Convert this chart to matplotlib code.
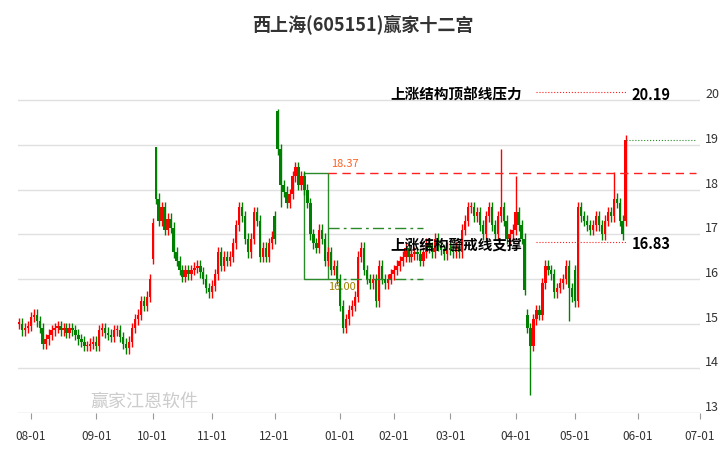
import matplotlib
matplotlib.use("Agg")
import matplotlib.pyplot as plt
from matplotlib.patches import Rectangle

plt.rcParams['font.family'] = ['Noto Sans CJK SC', 'DejaVu Sans']

closes = [15.0,14.85,14.9,14.95,15.15,15.2,15.05,14.9,14.55,14.65,14.75,14.85,14.9,14.95,14.85,14.9,14.8,14.9,14.85,14.75,
          14.65,14.6,14.5,14.5,14.55,14.6,14.5,14.85,14.9,14.8,14.75,14.7,14.85,14.85,14.7,14.55,14.45,14.6,14.9,15.1,
          15.2,15.5,15.4,15.6,16.0,17.25,17.8,17.3,17.6,17.1,17.35,17.15,16.6,
          16.4,16.2,16.05,16.2,16.1,16.2,16.25,16.3,16.15,16.0,
          15.8,15.7,15.85,16.1,16.6,16.3,16.5,16.4,16.5,16.8,
          17.2,17.6,17.4,16.9,16.6,16.9,17.5,17.3,16.5,16.7,16.5,16.8,16.95,16.9,
          18.9,18.1,17.95,17.7,17.9,18.3,18.5,18.1,18.3,18.0,17.7,
          17.0,16.8,16.7,17.1,16.9,16.4,16.6,16.2,16.3,
          16.0,15.4,14.9,15.1,15.3,15.4,15.6,
          16.5,16.7,16.2,16.0,15.9,16.0,15.5,16.3,
          16.0,15.9,16.0,16.1,16.2,16.3,16.4,16.5,16.7,16.5,16.55,16.6,16.55,16.4,16.6,
          16.8,16.7,16.6,16.9,16.75,16.65,16.55,16.7,16.65,16.6,16.7,16.6,
          17.1,17.3,17.6,17.6,17.4,17.5,17.2,17.0,17.4,17.6,
          17.2,17.0,17.4,17.6,17.3,16.9,17.0,17.1,
          17.5,17.2,16.9,15.75,14.9,14.5,15.1,
          15.3,15.2,15.9,16.3,16.2,16.1,15.7,15.8,15.9,16.0,
          16.3,15.8,15.6,15.5,
          17.6,17.4,17.3,17.2,17.1,17.2,17.4,17.2,17.0,17.3,17.5,17.4,17.8,17.7,17.3,17.0,
          19.1]
# opens that gap away from the previous close
open_overrides = {45: 16.45, 46: 18.95, 86: 17.4, 87: 19.75, 187: 16.2, 204: 17.3, 171: 15.2}
# highs / lows that reach far beyond the body
high_overrides = {46: 18.95, 87: 19.8, 162: 18.9, 167: 18.3, 200: 18.4}
low_overrides = {172: 13.4, 88: 17.6, 185: 15.05}
wick = 0.12

date_ticks = ['08-01','09-01','10-01','11-01','12-01','01-01','02-01','03-01','04-01','05-01','06-01','07-01']
tick_pos = [4, 26, 45, 65, 86, 108, 126, 145, 167, 187, 208, 229]

fig = plt.figure(figsize=(7.26, 4.5), dpi=100)
ax = fig.add_axes([18/726, 1-413/450, (700-18)/726, (413-60)/450])
for i, c in enumerate(closes):
    o = open_overrides.get(i, closes[i-1] if i > 0 else c)
    hi = high_overrides.get(i, max(o, c) + wick)
    lo = low_overrides.get(i, min(o, c) - wick)
    col = '#ff0000' if c >= o else '#008000'
    ax.vlines(i, lo, hi, color=col, lw=1)
    ax.add_patch(Rectangle((i-0.4, min(o, c)), 0.8, max(abs(c-o), 0.03), color=col, lw=0))

ax.set_xlim(-0.3, 227.5)
ax.set_ylim(13, 20.9)
for y in range(14, 21):
    ax.axhline(y, color='#e0e0e0', lw=1, zorder=0)
ax.axhline(13, color='#cccccc', lw=1, zorder=0)
for s in ax.spines.values():
    s.set_visible(False)
ax.set_yticks([])
for y in range(13, 21):
    fig.text(712/726, ax.transData.transform((0, y))[1]/450 + 0.012, str(y), ha='center', va='center', fontsize=9, color='#333333')
ax.set_xticks(tick_pos)
ax.set_xticklabels(date_ticks, fontsize=8.5, color='#333333')
ax.tick_params(axis='x', length=4, color='#999999', pad=8)

ax.add_patch(Rectangle((96, 16.0), 8, 2.37, fill=False, ec='#2a8a2a', lw=1))
ax.hlines(18.37, 104, 227.5, colors='#ff2020', linestyles=(0, (6, 4)), lw=1)
ax.hlines([17.15, 16.0], 104, 136, colors='#2a8a2a', linestyles=(0, (8, 3, 2, 3)), lw=1)
ax.text(105, 18.5, '18.37', color='#ff6020', fontsize=8)
ax.text(104, 15.75, '16.00', color='#a08000', fontsize=8)

ax.text(125, 20.12, '上涨结构顶部线压力', fontsize=10.5, fontweight='bold', va='center')
ax.hlines(20.19, 174, 204, colors='#ff2020', linestyles=':', lw=0.8)
ax.text(206, 20.12, '20.19', fontsize=10.5, fontweight='bold', va='center')
ax.text(125, 16.78, '上涨结构警戒线支撑', fontsize=10.5, fontweight='bold', va='center')
ax.hlines(16.83, 174, 204, colors='#ff2020', linestyles=':', lw=0.8)
ax.text(206, 16.78, '16.83', fontsize=10.5, fontweight='bold', va='center')
ax.hlines(19.1, 204, 227.5, colors='#2a8a2a', linestyles=':', lw=0.8)

fig.text(90/726, 1-402/450, '赢家江恩软件', fontsize=13, color='#cccccc', va='center')
fig.text(0.5, 1-25/450, '西上海(605151)赢家十二宫', ha='center', va='center', fontsize=13, fontweight='bold', color='#333333')
fig.savefig('out.png', dpi=100)
